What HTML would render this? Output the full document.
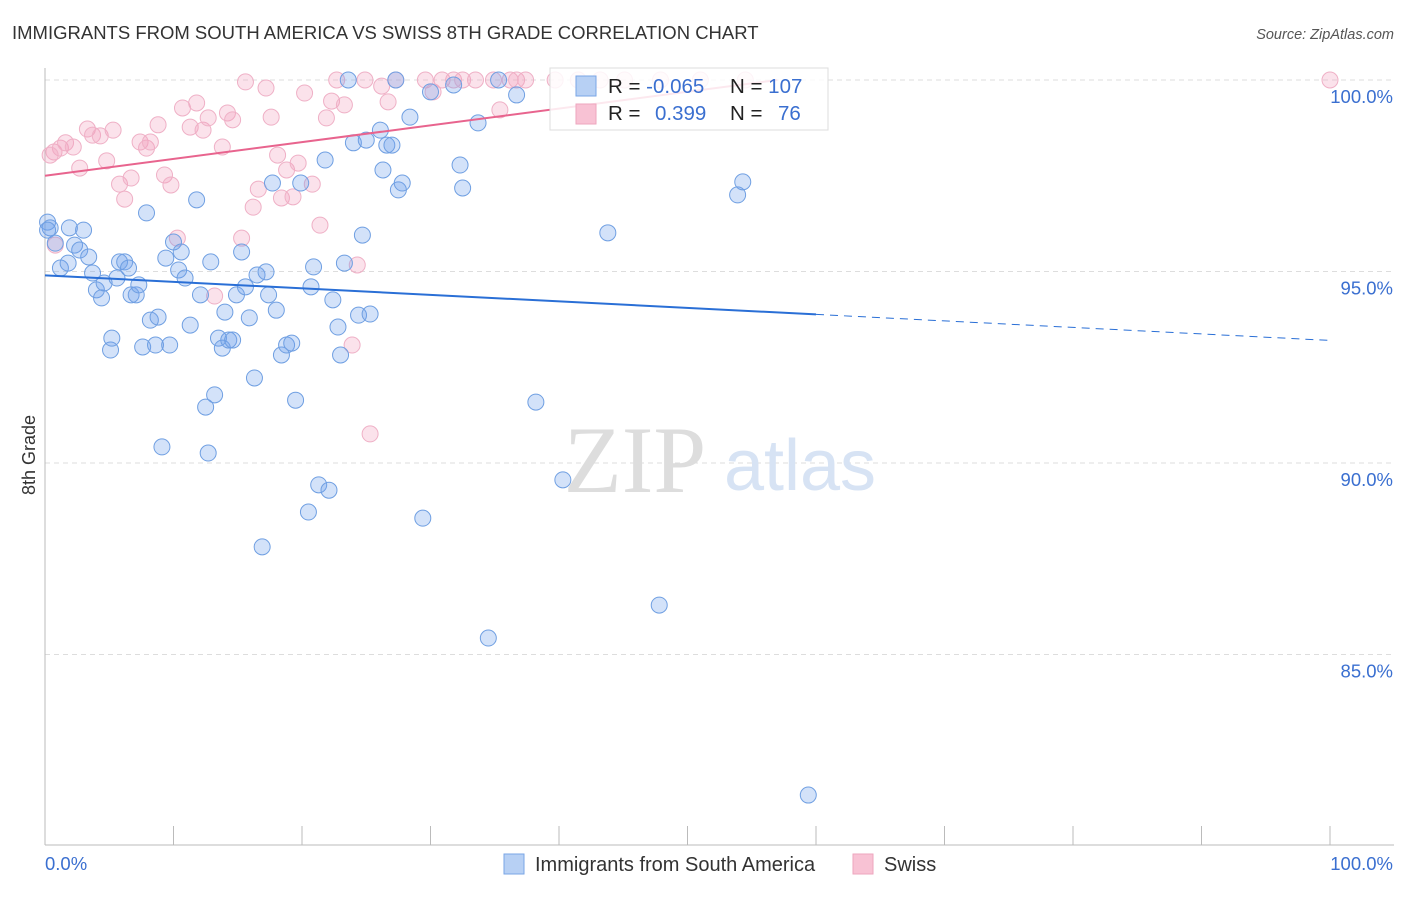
<!DOCTYPE html>
<html><head><meta charset="utf-8"><style>
body{margin:0;background:#fff;font-family:"Liberation Sans",sans-serif}
</style></head><body>
<svg id="chart" width="1406" height="892" xmlns="http://www.w3.org/2000/svg">
<text x="12" y="39" font-size="18.5" fill="#333">IMMIGRANTS FROM SOUTH AMERICA VS SWISS 8TH GRADE CORRELATION CHART</text>
<text x="1394" y="39" font-size="14.5" fill="#555" text-anchor="end" font-style="italic">Source: ZipAtlas.com</text>
<text x="35" y="455" font-size="18" fill="#333" text-anchor="middle" transform="rotate(-90 35 455)">8th Grade</text>
<g id="grid"></g>
<text x="635" y="492" font-size="95" fill="#ddd" text-anchor="middle" font-family="Liberation Serif,serif">ZIP</text>
<text x="800" y="490" font-size="72" fill="#d7e3f4" text-anchor="middle">atlas</text>
<g id="pts"></g>
<g id="lines"></g>
<g>
<rect x="550" y="68" width="278" height="62" fill="#fff" fill-opacity="0.85" stroke="#ddd"/>
<rect x="576" y="76" width="20" height="20" fill="#b7d0f4" stroke="#7aa6e6"/>
<rect x="576" y="104" width="20" height="20" fill="#f8c2d4" stroke="#eea6be"/>
<text x="608" y="93" font-size="20.5" fill="#222">R = <tspan fill="#3a6fd0">-0.065</tspan></text>
<text x="730" y="93" font-size="20.5" fill="#222">N = <tspan fill="#3a6fd0">107</tspan></text>
<text x="608" y="120" font-size="20.5" fill="#222">R = <tspan fill="#3a6fd0" x="655">0.399</tspan></text>
<text x="730" y="120" font-size="20.5" fill="#222">N = <tspan fill="#3a6fd0" x="778">76</tspan></text>
</g>
<g>
<rect x="504" y="854" width="20" height="20" fill="#b7d0f4" stroke="#7aa6e6"/>
<text x="535" y="871" font-size="20" fill="#333">Immigrants from South America</text>
<rect x="853" y="854" width="20" height="20" fill="#f8c2d4" stroke="#eea6be"/>
<text x="884" y="871" font-size="20" fill="#333">Swiss</text>
</g>
</svg>
<script>
const yTicks=[100,95,90,85];
const yTickLabels=["100.0%","95.0%","90.0%","85.0%"];
const xTicks=[0,10,20,30,40,50,60,70,80,90,100];
const blueX=[0.2,0.4,0.8,1.2,1.8,1.9,2.3,2.7,3.0,3.4,3.7,4.0,4.4,4.6,5.1,5.2,5.6,5.8,6.2,6.5,6.7,7.1,7.3,7.6,7.9,8.2,8.6,8.8,9.1,9.4,9.7,10.0,10.4,10.6,10.9,11.3,11.8,12.1,12.5,12.7,12.9,13.2,13.5,13.8,14.0,14.3,14.6,14.9,15.3,15.6,15.9,16.3,16.5,16.9,17.2,17.4,17.7,18.0,18.4,18.8,19.2,19.5,19.9,20.5,20.7,20.9,21.3,21.8,22.1,22.4,22.8,23.0,23.3,23.6,24.0,24.4,24.7,25.0,25.3,26.1,26.3,26.6,27.0,27.5,27.8,28.4,29.4,30.0,31.8,32.3,32.5,33.7,34.5,35.3,36.7,38.2,40.3,43.8,47.8,53.9,54.3,59.4,27.3,0.2];
const blueY=[96.29,96.14,95.74,95.09,95.22,96.14,95.69,95.56,96.08,95.38,94.96,94.52,94.31,94.70,92.95,93.26,94.83,95.25,95.25,95.09,94.39,94.39,94.65,93.03,96.53,93.73,93.08,93.81,90.42,95.35,93.08,95.77,95.04,95.51,94.83,93.60,96.87,94.39,91.46,90.26,95.25,91.78,93.26,93.00,93.94,93.21,93.21,94.39,95.51,94.60,93.79,92.22,94.91,87.81,94.99,94.39,97.31,93.99,92.82,93.08,93.13,91.64,97.31,88.72,94.60,95.12,89.43,97.91,89.29,94.26,93.55,92.82,95.22,100,98.36,93.86,95.95,98.43,93.89,98.69,97.65,98.30,98.30,97.13,97.31,99.03,88.56,99.69,99.87,97.78,97.18,98.88,85.43,100,99.61,91.59,89.56,96.01,86.29,97.00,97.34,81.33,100,96.08];
const pinkX=[0.7,1.2,1.6,2.2,2.7,3.3,3.7,4.3,4.8,5.3,5.8,6.2,6.7,7.4,7.9,8.2,8.8,9.3,9.8,10.3,10.7,11.3,11.8,12.3,12.7,13.2,13.8,14.2,14.6,15.3,15.6,16.2,16.6,17.2,17.6,18.1,18.4,18.8,19.3,19.7,20.2,20.8,21.4,21.9,22.3,22.7,23.3,23.9,24.3,24.9,25.3,26.2,26.7,27.3,29.6,30.2,30.9,31.8,32.5,33.5,34.9,35.4,36.2,36.7,37.4,39.7,41.5,43.2,45.1,47.9,51.0,54.5,100,0.8,0.4];
const pinkY=[98.12,98.22,98.36,98.25,97.70,98.72,98.56,98.54,97.89,98.69,97.28,96.89,97.44,98.38,98.22,98.38,98.83,97.52,97.26,95.87,99.27,98.77,99.40,98.69,99.01,94.36,98.25,99.14,98.96,95.87,99.95,96.68,97.15,99.79,99.03,98.04,96.92,97.65,96.95,97.83,99.66,97.28,96.21,99.01,99.45,100,99.35,93.08,95.17,100,90.76,99.84,99.43,100,100,99.69,100,100,100,100,100,99.22,100,100,100,100,100,100,100,100,100,100,100,95.69,98.04];
const blueTrend=[[0,94.9],[60,93.88],[100,93.2]];
const pinkTrend=[[0,97.5],[57,100]];
const NS="http://www.w3.org/2000/svg";
const X=v=>45+v*12.85, Y=v=>80+(100-v)*38.3;
function mk(t,a,p){const e=document.createElementNS(NS,t);for(const k in a)e.setAttribute(k,a[k]);p.appendChild(e);return e;}
const grid=document.getElementById('grid');
yTicks.forEach((t,i)=>{
 const l=mk('line',{x1:45,x2:1394,y1:Y(t),y2:Y(t),stroke:'#ddd','stroke-dasharray':'5,4'},grid);
 
 
 const tx=mk('text',{x:1393,y:Y(t)+23,'font-size':18.5,fill:'#3a6fd0','text-anchor':'end'},grid);
 tx.textContent=yTickLabels[i];
 
 
});
const ax=mk('line',{x1:45,x2:45,y1:68,y2:845,stroke:'#bbb'},grid);


const bx=mk('line',{x1:45,x2:1394,y1:845,y2:845,stroke:'#bbb'},grid);


xTicks.forEach(t=>{
 const l=mk('line',{x1:X(t),x2:X(t),y1:826,y2:845,stroke:'#bbb'},grid);
 
 
});
const xl0=mk('text',{x:45,y:870,'font-size':18.5,fill:'#3a6fd0'},grid);xl0.textContent='0.0%';


const xl1=mk('text',{x:1393,y:870,'font-size':18.5,fill:'#3a6fd0','text-anchor':'end'},grid);xl1.textContent='100.0%';


const pts=document.getElementById('pts');
pinkX.forEach((x,i)=>{
 const c=mk('circle',{cx:X(x),cy:Y(pinkY[i]),r:8,fill:'rgba(242,160,190,0.3)',stroke:'#efb0c6','stroke-width':1},pts);
 
 
});
blueX.forEach((x,i)=>{
 const c=mk('circle',{cx:X(x),cy:Y(blueY[i]),r:8,fill:'rgba(110,160,235,0.3)',stroke:'#6f9fe2','stroke-width':1},pts);
 
 
});
const lines=document.getElementById('lines');
const b1=mk('line',{x1:X(blueTrend[0][0]),y1:Y(blueTrend[0][1]),x2:X(blueTrend[1][0]),y2:Y(blueTrend[1][1]),stroke:'#2a6fd6','stroke-width':2},lines);


const b2=mk('line',{x1:X(blueTrend[1][0]),y1:Y(blueTrend[1][1]),x2:X(blueTrend[2][0]),y2:Y(blueTrend[2][1]),stroke:'#2a6fd6','stroke-width':1,'stroke-dasharray':'8,6'},lines);


const p1=mk('line',{x1:X(pinkTrend[0][0]),y1:Y(pinkTrend[0][1]),x2:X(pinkTrend[1][0]),y2:Y(pinkTrend[1][1]),stroke:'#e8648e','stroke-width':2},lines);


</script>
</body></html>
